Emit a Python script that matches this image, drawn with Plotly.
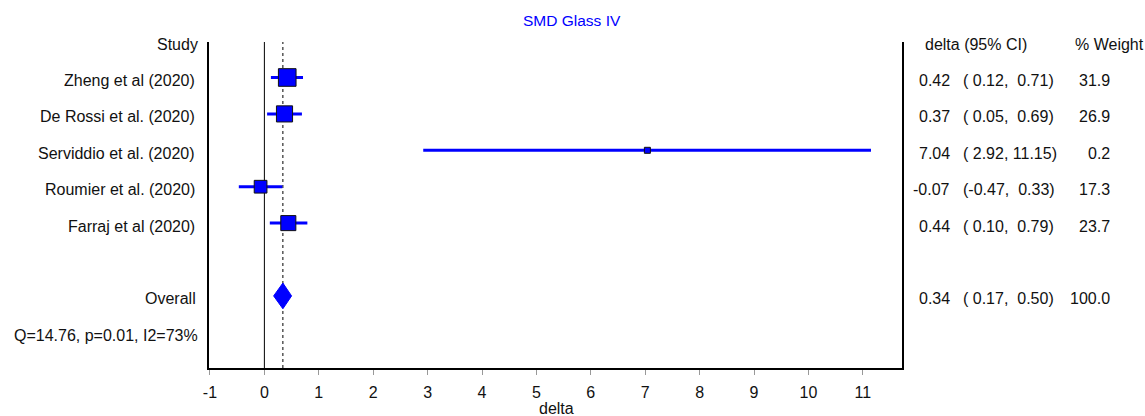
import plotly.graph_objects as go

# ---------------- data ----------------
studies = ["Zheng et al (2020)", "De Rossi et al. (2020)", "Serviddio et al. (2020)",
           "Roumier et al. (2020)", "Farraj et al (2020)"]
est = [0.42, 0.37, 7.04, -0.07, 0.44]
ci_lo = [0.12, 0.05, 2.92, -0.47, 0.10]
ci_hi = [0.71, 0.69, 11.15, 0.33, 0.79]
weights = [31.9, 26.9, 0.2, 17.3, 23.7]
study_rows = [1, 2, 3, 4, 5]

overall_label = "Overall"
overall_est = 0.34
overall_lo = 0.17
overall_hi = 0.50
overall_weight = 100.0
overall_row = 7

het_text = "Q=14.76, p=0.01, I2=73%"
het_row = 8
header_row = 0

title_text = "SMD Glass IV"
x_title = "delta"
col_study = "Study"
col_ci = "delta (95% CI)"
col_weight = "% Weight"
tick_vals = [-1, 0, 1, 2, 3, 4, 5, 6, 7, 8, 9, 10, 11]
tick_text = ["-1", "0", "1", "2", "3", "4", "5", "6", "7", "8", "9", "10", "11"]

# ---------------- layout geometry ----------------
W, H = 1145, 416
ML, MR, MT, MB = 209, 243, 42, 48
PW = W - ML - MR
PH = H - MT - MB
Y_RANGE = [8.98, 0.025]
BLUE = "#0000FF"
FONT = "Liberation Sans, Arial, sans-serif"
TXT = "#111111"


def px(xpix):
    return (xpix - ML) / PW


def py(ypix):
    return (H - MB - ypix) / PH


def prow(row):
    return (Y_RANGE[0] - row) / (Y_RANGE[0] - Y_RANGE[1])


fig = go.Figure()

# CI lines + weighted boxes
box_sizes = [max(7.0, 3.3 * w ** 0.5) - 1 for w in weights]
fig.add_trace(go.Scatter(
    x=est, y=study_rows, mode="markers",
    marker=dict(symbol="square", size=box_sizes, color=BLUE, opacity=1,
                line=dict(color="#111111", width=1)),
    error_x=dict(type="data", symmetric=False,
                 array=[h - e for h, e in zip(ci_hi, est)],
                 arrayminus=[e - l for e, l in zip(est, ci_lo)],
                 color=BLUE, thickness=3, width=0),
    showlegend=False, hoverinfo="skip", cliponaxis=False,
))

# overall diamond
dh = 0.353
fig.add_trace(go.Scatter(
    x=[overall_lo, overall_est, overall_hi, overall_est, overall_lo],
    y=[overall_row, overall_row - dh, overall_row, overall_row + dh, overall_row],
    mode="lines", fill="toself", fillcolor=BLUE,
    line=dict(color=BLUE, width=1), showlegend=False, hoverinfo="skip",
))

# reference lines
fig.add_shape(type="line", xref="x", yref="paper", x0=0, x1=0, y0=0, y1=1,
              line=dict(color="black", width=1), layer="below")
fig.add_shape(type="line", xref="x", yref="paper", x0=overall_est, x1=overall_est, y0=0, y1=1,
              line=dict(color="black", width=1, dash="dot"), layer="below")

ann = []
YS = -3


def add_text(text, xpix, row, anchor, size=16, color=TXT):
    ann.append(dict(text=text, xref="paper", yref="paper", x=px(xpix), y=prow(row),
                    xanchor=anchor, yanchor="middle", showarrow=False, yshift=YS,
                    borderpad=0, font=dict(family=FONT, size=size, color=color)))


# left column
add_text(col_study, 198.5, header_row, "right")
for s, r in zip(studies, study_rows):
    add_text(s, 196, r, "right")
add_text(overall_label, 196.5, overall_row, "right")
add_text(het_text, 199, het_row, "right")

# right columns
NB = "\u00a0"


def ci_str(l, h):
    return ("(" + f"{l:5.2f}" + ", " + f"{h:5.2f}" + ")").replace(" ", NB)


add_text(col_ci, 924, header_row, "left")
add_text(col_weight, 1074, header_row, "left")
for e, l, h, w, r in zip(est, ci_lo, ci_hi, weights, study_rows):
    add_text(f"{e:.2f}", 951, r, "right")
    add_text(ci_str(l, h), 962, r, "left")
    add_text(f"{w:.1f}", 1111, r, "right")
add_text(f"{overall_est:.2f}", 951, overall_row, "right")
add_text(ci_str(overall_lo, overall_hi), 962, overall_row, "left")
add_text(f"{overall_weight:.1f}", 1111, overall_row, "right")

# title and x title
ann.append(dict(text=title_text, xref="paper", yref="paper", x=px(571.7), y=py(20.7),
                xanchor="center", yanchor="middle", showarrow=False,
                font=dict(family=FONT, size=15.5, color=BLUE)))
ann.append(dict(text=x_title, xref="paper", yref="paper", x=px(556), y=py(408),
                xanchor="center", yanchor="middle", showarrow=False,
                font=dict(family=FONT, size=16, color=TXT)))

fig.update_layout(
    width=W, height=H,
    margin=dict(l=ML, r=MR, t=MT, b=MB, pad=0),
    plot_bgcolor="white", paper_bgcolor="white",
    annotations=ann,
    xaxis=dict(range=[-1.018, 11.72], tickmode="array", tickvals=tick_vals, ticktext=tick_text,
               ticks="outside", ticklen=5, tickcolor="#999999", tickwidth=1,
               showline=True, linecolor="black", linewidth=2, mirror=False,
               showgrid=False, zeroline=False, ticklabelstandoff=4,
               tickfont=dict(family=FONT, size=16, color=TXT), fixedrange=True),
    yaxis=dict(range=Y_RANGE, showticklabels=False, ticks="",
               showline=True, linecolor="black", linewidth=2, mirror=True,
               showgrid=False, zeroline=False, fixedrange=True),
)

fig.write_html("out.html", config={"displayModeBar": False},
               post_script="document.body.style.margin='0';")
